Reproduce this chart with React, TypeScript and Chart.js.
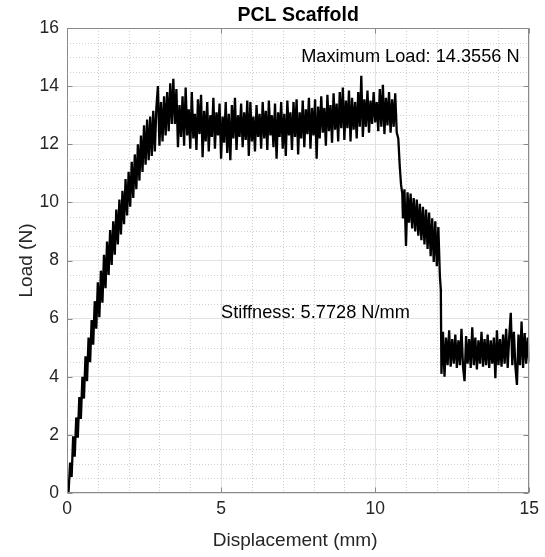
import React, { useEffect, useRef } from "react";
import { Chart, registerables } from "chart.js";

Chart.register(...registerables);

// ---- data ----
const rampX = [
  0.05, 0.1, 0.15, 0.2, 0.25, 0.3, 0.35, 0.4, 0.45, 0.5,
  0.55, 0.6, 0.65, 0.7, 0.75, 0.8, 0.85, 0.9, 0.95, 1.0,
  1.05, 1.1, 1.15, 1.2, 1.25, 1.3, 1.35, 1.4, 1.45, 1.5,
  1.55, 1.6, 1.65, 1.7, 1.75, 1.8, 1.85, 1.9, 1.95, 2.0,
  2.05, 2.1, 2.15, 2.2, 2.25, 2.3, 2.35, 2.4, 2.45, 2.5,
  2.55, 2.6, 2.65, 2.7, 2.75, 2.8, 2.85, 2.9, 2.95, 3.0,
  3.05, 3.1, 3.15, 3.2, 3.25, 3.3, 3.35, 3.4, 3.45,
];
const rampLoad = [
  0.0, 1.05, 0.55, 1.95, 1.25, 2.6, 1.9, 3.3, 2.55, 4.0,
  3.25, 4.7, 3.85, 5.35, 4.5, 5.95, 5.1, 6.6, 5.65, 7.25,
  6.05, 7.65, 6.55, 8.2, 7.05, 8.65, 7.5, 9.05, 7.85, 9.35,
  8.2, 9.75, 8.55, 10.1, 8.9, 10.4, 9.25, 10.8, 9.55, 11.05,
  9.85, 11.4, 10.15, 11.65, 10.45, 12.0, 10.75, 12.3, 11.05, 12.65,
  11.3, 12.85, 11.45, 12.95, 11.6, 13.15, 11.75, 13.25, 14.0, 11.95,
  13.45, 12.1, 13.65, 12.3, 13.8, 12.45, 14.1, 12.7, 14.25,
];

const plateauX = [
  3.5, 3.55, 3.6, 3.65, 3.7, 3.75, 3.8, 3.85, 3.9, 3.95,
  4.0, 4.05, 4.1, 4.15, 4.2, 4.25, 4.3, 4.35, 4.4, 4.45,
  4.5, 4.55, 4.6, 4.65, 4.7, 4.75, 4.8, 4.85, 4.9, 4.95,
  5.0, 5.05, 5.1, 5.15, 5.2, 5.25, 5.3, 5.35, 5.4, 5.45,
  5.5, 5.55, 5.6, 5.65, 5.7, 5.75, 5.8, 5.85, 5.9, 5.95,
  6.0, 6.05, 6.1, 6.15, 6.2, 6.25, 6.3, 6.35, 6.4, 6.45,
  6.5, 6.55, 6.6, 6.65, 6.7, 6.75, 6.8, 6.85, 6.9, 6.95,
  7.0, 7.05, 7.1, 7.15, 7.2, 7.25, 7.3, 7.35, 7.4, 7.45,
  7.5, 7.55, 7.6, 7.65, 7.7, 7.75, 7.8, 7.85, 7.9, 7.95,
  8.0, 8.05, 8.1, 8.15, 8.2, 8.25, 8.3, 8.35, 8.4, 8.45,
  8.5, 8.55, 8.6, 8.65, 8.7, 8.75, 8.8, 8.85, 8.9, 8.95,
  9.0, 9.05, 9.1, 9.15, 9.2, 9.25, 9.3, 9.35, 9.4, 9.45,
  9.5, 9.55, 9.6, 9.65, 9.7, 9.75, 9.8, 9.85, 9.9, 9.95,
  10.0, 10.05, 10.1, 10.15, 10.2, 10.25, 10.3, 10.35, 10.4, 10.45,
  10.5, 10.55, 10.6, 10.65, 10.7,
];
const plateauLoad = [
  12.7, 13.9, 11.9, 13.35, 12.25, 13.65, 11.95, 13.95, 12.3, 13.2,
  11.85, 13.8, 12.2, 13.05, 11.8, 13.55, 12.35, 13.7, 11.55, 13.15,
  12.1, 13.45, 11.75, 13.0, 12.25, 13.6, 11.85, 13.1, 12.3, 13.4,
  11.5, 12.95, 12.05, 13.45, 11.7, 13.05, 11.45, 13.35, 12.2, 13.6,
  11.8, 13.0, 12.25, 13.4, 11.9, 13.1, 12.15, 13.5, 11.6, 13.45,
  12.1, 12.95, 11.75, 13.35, 12.25, 13.05, 11.85, 13.45, 12.2, 13.15,
  11.8, 13.5, 12.3, 13.0, 11.9, 13.4, 11.5, 13.1, 12.25, 13.45,
  11.85, 13.05, 11.6, 13.5, 12.3, 13.1, 11.8, 13.45, 12.25, 13.55,
  11.65, 13.1, 12.2, 13.5, 11.9, 13.2, 12.35, 13.6, 11.85, 13.25,
  12.3, 13.55, 11.5, 13.3, 12.2, 13.65, 12.4, 13.25, 11.95, 13.7,
  12.45, 13.35, 12.05, 13.75, 12.5, 13.4, 12.1, 13.8, 12.55, 13.95,
  12.15, 13.5, 12.55, 13.85, 12.1, 13.6, 12.5, 13.45, 12.2, 13.8,
  12.6, 14.36, 12.25, 13.55, 12.6, 13.85, 12.4, 13.5, 12.7, 13.8,
  12.75, 13.45, 12.45, 13.9, 12.6, 14.05, 12.35, 13.6, 12.65, 13.8,
  12.4, 13.55, 12.6, 13.75, 12.4,
];

const softX = [
  10.75, 10.8, 10.84, 10.88,
  10.9, 10.95, 11.0, 11.05, 11.1, 11.15, 11.2, 11.25, 11.3, 11.35,
  11.4, 11.45, 11.5, 11.55, 11.6, 11.65, 11.7, 11.75, 11.8, 11.85,
  11.9, 11.95, 12.0, 12.05, 12.1,
  12.13, 12.15,
];
const softLoad = [
  12.2, 11.2, 10.6, 10.3,
  9.45, 10.45, 8.5, 10.35, 9.3, 10.3, 9.1, 10.15, 9.0, 10.1,
  8.85, 9.95, 8.7, 9.85, 8.55, 9.75, 8.4, 9.65, 8.15, 9.45,
  7.95, 9.35, 7.8, 9.15, 7.45,
  7.0, 4.1,
];

const residualX = [
  12.2, 12.25, 12.3, 12.35, 12.4, 12.45, 12.5, 12.55, 12.6, 12.65,
  12.7, 12.75, 12.8, 12.85, 12.9, 12.95, 13.0, 13.05, 13.1, 13.15,
  13.2, 13.25, 13.3, 13.35, 13.4, 13.45, 13.5, 13.55, 13.6, 13.65,
  13.7, 13.75, 13.8, 13.85, 13.9, 13.95, 14.0, 14.05, 14.1, 14.15,
  14.2, 14.25, 14.3, 14.35, 14.4, 14.45, 14.5, 14.55, 14.6, 14.65,
  14.7, 14.75, 14.8, 14.85, 14.9, 14.95, 15.0,
];
const residualLoad = [
  5.55, 4.0, 5.35, 4.4, 5.6, 4.35, 5.3, 4.45, 5.45, 4.3,
  5.25, 4.4, 5.65, 4.35, 3.85, 5.4, 4.45, 5.3, 4.3, 5.7,
  4.4, 5.35, 4.25, 5.25, 4.45, 5.55, 4.35, 5.3, 4.4, 5.45,
  4.3, 5.25, 4.45, 5.35, 3.95, 5.6, 4.4, 5.3, 4.35, 5.45,
  4.45, 5.65, 4.3, 5.4, 6.2, 4.4, 5.55, 4.35, 3.72, 5.45,
  4.4, 5.9, 4.3, 5.5, 4.45, 5.35, 4.5,
];

const xTicks = [0, 5, 10, 15];
const yTicks = [0, 2, 4, 6, 8, 10, 12, 14, 16];

const titleText = "PCL Scaffold";
const xLabel = "Displacement (mm)";
const yLabel = "Load (N)";
const maxLoadText = "Maximum Load: 14.3556 N";
const maxLoadAt = [7.6, 15.0];
const stiffnessText = "Stiffness: 5.7728 N/mm";
const stiffnessAt = [5.0, 6.2];

const FONT = '"Liberation Sans", Arial, Helvetica, sans-serif';
const TEXT = "#262626";
const BOX = "#8a8a8a";

const displacement = [...rampX, ...plateauX, ...softX, ...residualX];
const load = [...rampLoad, ...plateauLoad, ...softLoad, ...residualLoad];

const overlay = {
  id: "matlabOverlay",
  beforeDatasetsDraw(chart: any) {
    const { ctx, chartArea: a } = chart;
    const x = chart.scales.x;
    const y = chart.scales.y;
    ctx.save();
    ctx.strokeStyle = "#cfcfcf";
    ctx.lineWidth = 1;
    ctx.setLineDash([1, 2]);
    for (let v = 1; v < 15; v++) {
      if (v % 5 === 0) continue;
      const px = Math.round(x.getPixelForValue(v)) + 0.5;
      ctx.beginPath();
      ctx.moveTo(px, a.top);
      ctx.lineTo(px, a.bottom);
      ctx.stroke();
    }
    for (let v = 0.5; v < 16; v += 0.5) {
      if (v % 2 === 0) continue;
      const py = Math.round(y.getPixelForValue(v)) + 0.5;
      ctx.beginPath();
      ctx.moveTo(a.left, py);
      ctx.lineTo(a.right, py);
      ctx.stroke();
    }
    ctx.restore();
  },
  afterDatasetsDraw(chart: any) {
    const { ctx, chartArea: a } = chart;
    const x = chart.scales.x;
    const y = chart.scales.y;
    ctx.save();
    ctx.strokeStyle = BOX;
    ctx.lineWidth = 1;
    const L = Math.round(a.left) + 0.5;
    const R = Math.round(a.right) - 0.5;
    const T = Math.round(a.top) + 0.5;
    const B = Math.round(a.bottom) - 0.5;
    ctx.strokeRect(L, T, R - L, B - T);
    const tl = 5;
    ctx.beginPath();
    xTicks.forEach((v) => {
      const px = Math.round(x.getPixelForValue(v)) + 0.5;
      ctx.moveTo(px, B);
      ctx.lineTo(px, B - tl);
      ctx.moveTo(px, T);
      ctx.lineTo(px, T + tl);
    });
    yTicks.forEach((v) => {
      const py = Math.round(y.getPixelForValue(v)) + 0.5;
      ctx.moveTo(L, py);
      ctx.lineTo(L + tl, py);
      ctx.moveTo(R, py);
      ctx.lineTo(R - tl, py);
    });
    ctx.stroke();
    ctx.restore();
  },
  afterDraw(chart: any) {
    const { ctx, chartArea: a } = chart;
    const x = chart.scales.x;
    const y = chart.scales.y;
    ctx.save();
    ctx.fillStyle = "#000";
    ctx.font = `bold 19.5px ${FONT}`;
    ctx.textAlign = "center";
    ctx.textBaseline = "alphabetic";
    ctx.fillText(titleText, (a.left + a.right) / 2, 21);

    ctx.fillStyle = TEXT;
    ctx.font = `19px ${FONT}`;
    ctx.fillText(xLabel, (a.left + a.right) / 2 - 3, 546);

    ctx.save();
    ctx.translate(32, (a.top + a.bottom) / 2);
    ctx.rotate(-Math.PI / 2);
    ctx.fillText(yLabel, 0, 0);
    ctx.restore();

    ctx.fillStyle = "#000";
    ctx.font = `18.2px ${FONT}`;
    ctx.textAlign = "left";
    ctx.textBaseline = "middle";
    ctx.fillText(maxLoadText, x.getPixelForValue(maxLoadAt[0]), y.getPixelForValue(maxLoadAt[1]));
    ctx.fillText(stiffnessText, x.getPixelForValue(stiffnessAt[0]), y.getPixelForValue(stiffnessAt[1]));
    ctx.restore();
  },
};

export default function App() {
  const ref = useRef<HTMLCanvasElement | null>(null);
  useEffect(() => {
    if (!ref.current) return;
    const n = Math.min(displacement.length, load.length);
    const pts = [];
    for (let i = 0; i < n; i++) pts.push({ x: displacement[i], y: load[i] });
    const chart = new Chart(ref.current, {
      type: "line",
      data: {
        datasets: [
          {
            data: pts,
            borderColor: "#000000",
            borderWidth: 2.3,
            borderJoinStyle: "bevel",
            pointRadius: 0,
            tension: 0,
            fill: false,
          },
        ],
      },
      options: {
        animation: false,
        responsive: false,
        maintainAspectRatio: false,
        layout: { padding: { left: 0, right: 13, top: 28, bottom: 0 } },
        plugins: { legend: { display: false }, tooltip: { enabled: false }, title: { display: false } },
        scales: {
          x: {
            type: "linear",
            min: 0,
            max: 15,
            afterBuildTicks: (s: any) => {
              s.ticks = xTicks.map((v) => ({ value: v }));
            },
            afterFit: (s: any) => {
              s.height = 64;
            },
            ticks: {
              font: { family: FONT, size: 17.5 },
              color: TEXT,
              padding: 6,
              maxRotation: 0,
              autoSkip: false,
            },
            grid: { color: "#e2e2e2", lineWidth: 1, drawTicks: false },
            border: { display: false },
          },
          y: {
            type: "linear",
            min: 0,
            max: 16,
            afterBuildTicks: (s: any) => {
              s.ticks = yTicks.map((v) => ({ value: v }));
            },
            afterFit: (s: any) => {
              s.width = 67;
            },
            ticks: {
              font: { family: FONT, size: 17.5 },
              color: TEXT,
              padding: 8,
              autoSkip: false,
            },
            grid: { color: "#e2e2e2", lineWidth: 1, drawTicks: false },
            border: { display: false },
          },
        },
      },
      plugins: [overlay],
    } as any);
    return () => chart.destroy();
  }, []);
  return (
    <div style={{ position: "fixed", left: 0, top: 0, width: 545, height: 557, background: "#fff" }}>
      <canvas ref={ref} width={545} height={557} style={{ display: "block" }} />
    </div>
  );
}
